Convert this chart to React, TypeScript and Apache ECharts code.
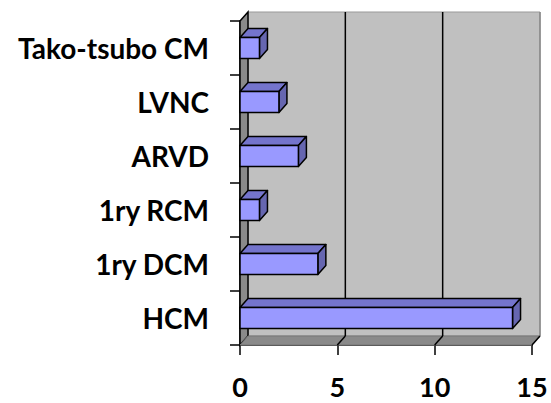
import React, { useEffect, useRef } from "react";
import * as echarts from "echarts";

const categories = ["HCM", "1ry DCM", "1ry RCM", "ARVD", "LVNC", "Tako-tsubo CM"];
const values = [14, 4, 1, 3, 2, 1];
const xTicks = [0, 5, 10, 15];

const DX = 8;
const DY = -9;
const FONT = "Lato";

export default function App() {
  const ref = useRef<HTMLDivElement>(null);
  useEffect(() => {
    const chart = echarts.init(ref.current!, null, { renderer: "svg" });
    const option: any = {
      animation: false,
      backgroundColor: "#ffffff",
      grid: { left: 240, right: 19, top: 21, bottom: 58, containLabel: false },
      xAxis: {
        type: "value",
        min: 0,
        max: 15,
        interval: 5,
        axisLine: { show: true, lineStyle: { color: "#000", width: 1.5 } },
        axisTick: { show: true, length: 10, lineStyle: { color: "#000", width: 1.5 } },
        splitLine: { show: false },
        axisLabel: {
          margin: 28,
          fontFamily: FONT,
          fontWeight: "bold",
          fontSize: 27,
          color: "#000",
        },
      },
      yAxis: {
        type: "category",
        data: categories,
        axisLine: { show: true, lineStyle: { color: "#000", width: 1.5 } },
        axisTick: { show: true, length: 10, lineStyle: { color: "#000", width: 1.5 } },
        axisLabel: {
          margin: 31,
          fontFamily: FONT,
          fontWeight: "bold",
          fontSize: 28,
          color: "#000",
        },
      },
      series: [
        {
          type: "custom",
          z: 1,
          data: [[0, 0]],
          renderItem: (params: any, api: any) => {
            const cs = params.coordSys;
            const x0 = cs.x, y0 = cs.y, x1 = cs.x + cs.width, y1 = cs.y + cs.height;
            const children: any[] = [];
            children.push({
              type: "rect",
              shape: { x: x0 + DX, y: y0 + DY, width: x1 - x0, height: y1 - y0 },
              style: { fill: "#c0c0c0", stroke: "#999", lineWidth: 1 },
            });
            children.push({
              type: "polygon",
              shape: { points: [[x0, y0], [x0 + DX, y0 + DY], [x0 + DX, y1 + DY], [x0, y1]] },
              style: { fill: "#8a8a8a", stroke: "#000", lineWidth: 1.5 },
            });
            children.push({
              type: "polygon",
              shape: { points: [[x0, y1], [x0 + DX, y1 + DY], [x1 + DX, y1 + DY], [x1, y1]] },
              style: { fill: "#8a8a8a", stroke: "#777", lineWidth: 1 },
            });
            xTicks.slice(1).forEach((v) => {
              const p = api.coord([v, 0]);
              const X = p[0];
              children.push({
                type: "line",
                shape: { x1: X + DX, y1: y0 + DY, x2: X + DX, y2: y1 + DY },
                style: { stroke: v === 15 ? "#888" : "#000", lineWidth: 1.5 },
              });
              children.push({
                type: "line",
                shape: { x1: X + DX, y1: y1 + DY, x2: X, y2: y1 },
                style: { stroke: "#000", lineWidth: 1.5 },
              });
            });
            return { type: "group", children };
          },
        },
        {
          type: "custom",
          z: 3,
          data: values.map((v, i) => [v, i]),
          encode: { x: 0, y: 1 },
          renderItem: (params: any, api: any) => {
            const v = api.value(0);
            const idx = api.value(1);
            const s = api.coord([0, idx]);
            const e = api.coord([v, idx]);
            const band = api.size([0, 1])[1];
            const h = band * 0.39;
            const xa = s[0], xb = e[0];
            const yt = s[1] - h / 2, yb = s[1] + h / 2;
            const stroke = { stroke: "#000", lineWidth: 1.5, lineJoin: "round" };
            return {
              type: "group",
              children: [
                {
                  type: "polygon",
                  shape: { points: [[xa, yt], [xa + DX, yt + DY], [xb + DX, yt + DY], [xb, yt]] },
                  style: { fill: "#7474cc", ...stroke },
                },
                {
                  type: "polygon",
                  shape: { points: [[xb, yt], [xb + DX, yt + DY], [xb + DX, yb + DY], [xb, yb]] },
                  style: { fill: "#6666b0", ...stroke },
                },
                {
                  type: "rect",
                  shape: { x: xa, y: yt, width: xb - xa, height: yb - yt },
                  style: { fill: "#9999ff", ...stroke },
                },
              ],
            };
          },
        },
      ],
    };
    chart.setOption(option);
    return () => chart.dispose();
  }, []);
  return <div ref={ref} style={{ width: 551, height: 403, position: "absolute", left: 0, top: 0 }} />;
}
